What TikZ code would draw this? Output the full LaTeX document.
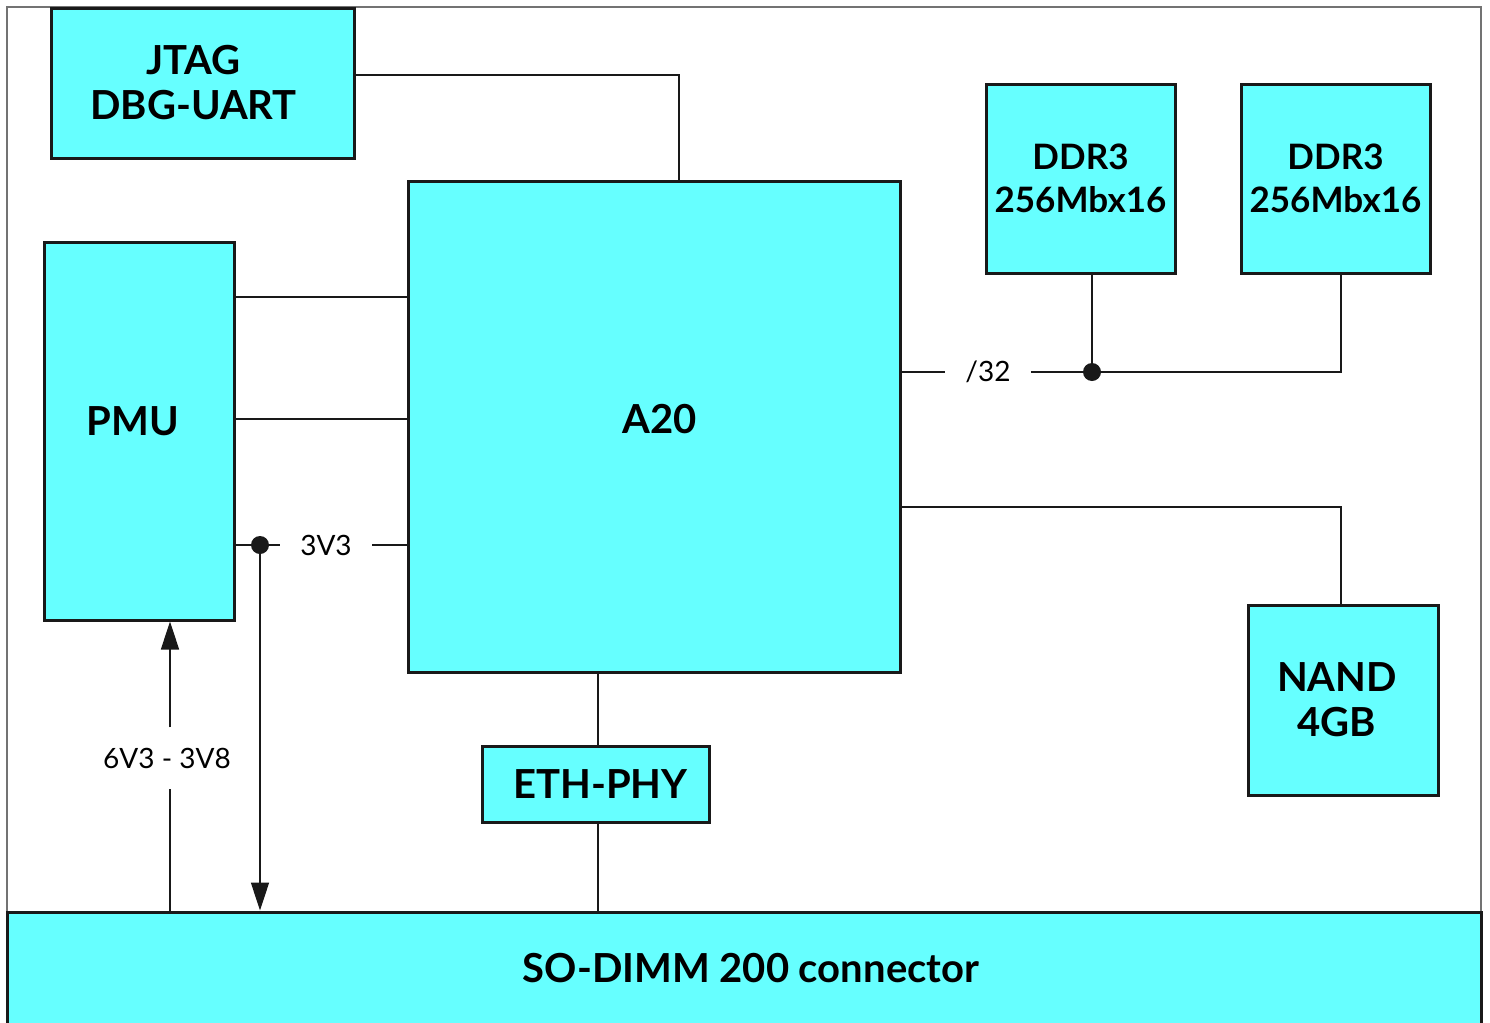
\documentclass[tikz,border=0pt]{standalone}
\usepackage{fontspec}
\setmainfont{Lato}
\usetikzlibrary{arrows.meta, calc}
\definecolor{chip}{HTML}{66FFFF}

\begin{document}
\begin{tikzpicture}[
  x=0.5pt, y=-0.5pt,
  font=\fontsize{14}{16}\selectfont,
  blk/.style ={rectangle, draw=black!90, line width=1.5pt, fill=chip,
               font=\fontsize{20}{22.5}\selectfont\bfseries, align=center, inner sep=0pt},
  mem/.style ={blk, minimum width=94.5pt, minimum height=94.5pt,
               font=\fontsize{17.5}{21.5}\selectfont\bfseries},
  wire/.style={draw=black!90, line width=0.8pt},
  pwr/.style ={wire, -{Triangle[length=14pt, width=9pt]}},
  tap/.style ={circle, fill=black!90, minimum size=9pt, inner sep=0pt},
  sig/.style ={inner sep=10pt},
]
\useasboundingbox (0,0) rectangle (1490,1023);

% ---- frame ----
\draw[black!55, line width=0.6pt] (7,1023) |- (1481,7) -- (1481,1023);

% ---- blocks ----
\node[blk, minimum width=151.5pt, minimum height=75pt]   (jtag)   at (202.5,83)    {JTAG\hspace*{9pt}\\DBG-UART\hspace*{9pt}};
\node[blk, minimum width=246pt, minimum height=245.5pt]  (a20)    at (654,426.5)   {\hspace*{6pt}\raisebox{7.5pt}{A20}};
\node[blk, minimum width=95pt, minimum height=189pt]     (pmu)    at (139,431)     {\raisebox{10pt}{PMU}\hspace*{6pt}};
\node[mem]                                               (ddra)   at (1080.5,178.5) {DDR3\\256Mbx16};
\node[mem]                                               (ddrb)   at (1335.5,178.5) {DDR3\\256Mbx16};
\node[blk, minimum width=95pt, minimum height=95pt]      (nand)   at (1343,700)    {NAND\hspace*{6pt}\\4GB\hspace*{6pt}};
\node[blk, minimum width=113.5pt, minimum height=38pt]   (eth)    at (595.5,784)   {\hspace*{5pt}ETH-PHY};
\node[blk, minimum width=737pt, minimum height=61pt]     (sodimm) at (744,973)     {};
\node[font=\fontsize{20}{22.5}\selectfont\bfseries] (sotxt) at (751,968) {SO-DIMM 200 connector};

% ---- signal labels and taps ----
\node[sig]  (v33)  at (326,545)  {3V3};
\node[sig]  (v638) at (167,758)  {6V3 - 3V8};
\node[sig]  (b32)  at (988,372)  {/32};
\node[tap]  (t33)  at (260,545)  {};
\node[tap]  (tddr) at (1092,372) {};

% ---- JTAG ----
\draw[wire] (jtag.east |- 0,75) -| ($(a20.north)+(25,0)$);

% ---- PMU to A20 ----
\draw[wire] (pmu.east |- 0,297) -- (a20.west |- 0,297);
\draw[wire] (pmu.east |- 0,419) -- (a20.west |- 0,419);
\draw[wire] (pmu.east |- t33) -- (t33) -- (v33.west);
\draw[wire] (v33.east) -- (a20.west |- v33);

% ---- power ----
\draw[pwr] (t33) -- (t33 |- sodimm.north);
\draw[wire] (sodimm.north -| 170,0) -- (v638.south -| 170,0);
\draw[pwr] (v638.north -| 170,0) -- (pmu.south -| 170,0);

% ---- memory bus ----
\draw[wire] (a20.east |- b32) -- (b32.west);
\draw[wire] (b32.east) -- (tddr) -| (1341,0 |- ddrb.south);
\draw[wire] (tddr) -- (tddr |- ddra.south);
\draw[wire] (a20.east |- 0,507) -| (1341,0 |- nand.north);

% ---- ethernet ----
\draw[wire] (eth.north -| 598,0) -- (a20.south -| 598,0);
\draw[wire] (eth.south -| 598,0) -- (sodimm.north -| 598,0);

\end{tikzpicture}
\end{document}
